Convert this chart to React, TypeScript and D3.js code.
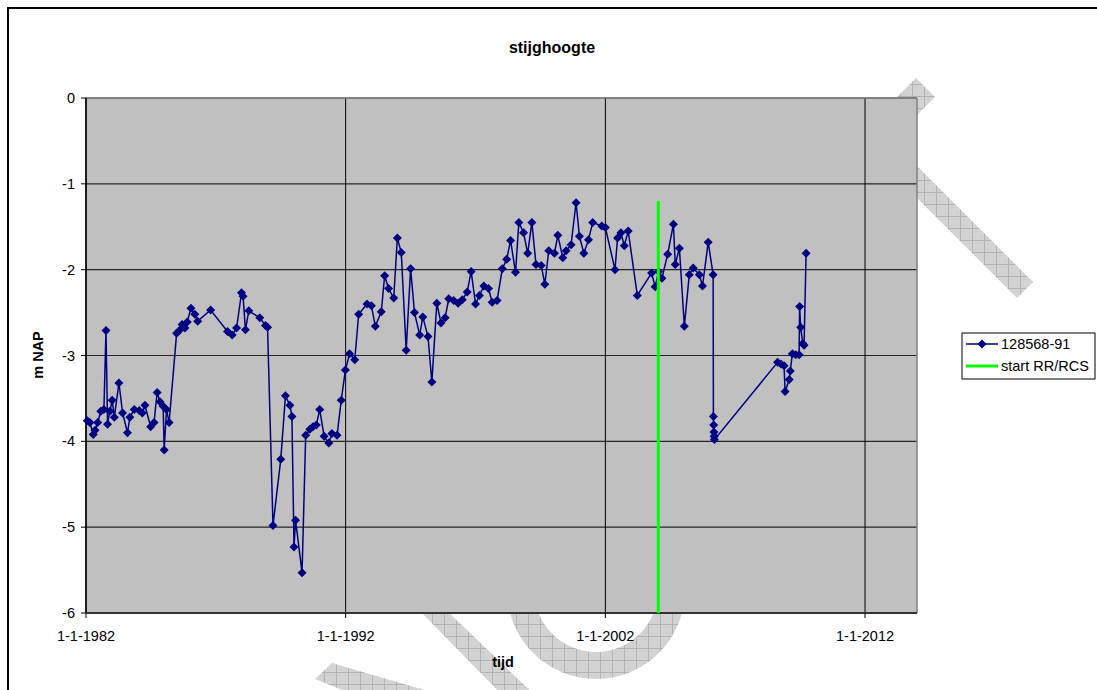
import React from "react";
import * as d3 from "d3";

// Measurement dates (decimal years) and groundwater head (m NAP) for well 128568-91
const years = [
  1982.05, 1982.15, 1982.28, 1982.35, 1982.45, 1982.57, 1982.69, 1982.77, 1982.83, 1982.92,
  1983.01, 1983.09, 1983.27, 1983.41, 1983.6, 1983.69, 1983.86, 1984.05, 1984.17, 1984.27,
  1984.49, 1984.62, 1984.74, 1984.85, 1984.97, 1985.01, 1985.1, 1985.2, 1985.49, 1985.59,
  1985.7, 1985.81, 1985.9, 1986.04, 1986.19, 1986.3, 1986.8, 1987.45, 1987.63, 1987.8,
  1987.99, 1988.05, 1988.14, 1988.27, 1988.69, 1988.91, 1988.99, 1989.2, 1989.5, 1989.68,
  1989.85, 1989.93, 1990.01, 1990.07, 1990.32, 1990.46, 1990.62, 1990.74, 1990.87, 1991.0,
  1991.17, 1991.35, 1991.47, 1991.67, 1991.83, 1991.99, 1992.15, 1992.35, 1992.5, 1992.82,
  1992.99, 1993.14, 1993.37, 1993.5, 1993.65, 1993.85, 1993.99, 1994.14, 1994.33, 1994.5,
  1994.65, 1994.85, 1994.97, 1995.17, 1995.32, 1995.51, 1995.67, 1995.83, 1995.97, 1996.16,
  1996.33, 1996.49, 1996.68, 1996.83, 1997.0, 1997.15, 1997.32, 1997.5, 1997.64, 1997.83,
  1998.03, 1998.2, 1998.35, 1998.54, 1998.67, 1998.85, 1999.01, 1999.17, 1999.33, 1999.53,
  1999.67, 1999.82, 2000.04, 2000.17, 2000.36, 2000.49, 2000.68, 2000.87, 2001.0, 2001.17,
  2001.35, 2001.51, 2001.86, 2002.0, 2002.37, 2002.47, 2002.6, 2002.73, 2002.88, 2003.23,
  2003.78, 2003.92, 2004.05, 2004.18, 2004.4, 2004.62, 2004.69, 2004.85, 2005.04, 2005.23,
  2005.38, 2005.62, 2005.74, 2005.96, 2006.15, 2006.16, 2006.17, 2006.18, 2006.19, 2006.2,
  2008.63, 2008.76, 2008.88, 2008.92, 2009.08, 2009.12, 2009.2, 2009.33, 2009.46, 2009.48,
  2009.52, 2009.6, 2009.65, 2009.73,
];

const heads = [
  -3.76, -3.78, -3.92, -3.87, -3.78, -3.65, -3.63, -2.71, -3.8, -3.65,
  -3.52, -3.72, -3.32, -3.67, -3.9, -3.72, -3.63, -3.64, -3.67, -3.58,
  -3.83, -3.78, -3.43, -3.54, -3.59, -4.1, -3.63, -3.78, -2.74, -2.71,
  -2.64, -2.68, -2.61, -2.45, -2.52, -2.6, -2.47, -2.72, -2.76, -2.68,
  -2.27, -2.31, -2.7, -2.48, -2.56, -2.65, -2.67, -4.98, -4.21, -3.47,
  -3.58, -3.71, -5.23, -4.92, -5.53, -3.93, -3.86, -3.83, -3.81, -3.63,
  -3.94, -4.02, -3.91, -3.93, -3.52, -3.17, -2.98, -3.05, -2.52, -2.4,
  -2.42, -2.66, -2.49, -2.07, -2.22, -2.33, -1.63, -1.8, -2.94, -1.99,
  -2.5, -2.76, -2.55, -2.78, -3.31, -2.39, -2.62, -2.56, -2.34, -2.36,
  -2.39, -2.35, -2.26, -2.02, -2.4, -2.3, -2.19, -2.22, -2.38, -2.36,
  -1.99, -1.88, -1.66, -2.03, -1.45, -1.57, -1.81, -1.45, -1.94, -1.95,
  -2.17, -1.78, -1.81, -1.6, -1.86, -1.78, -1.71, -1.22, -1.61, -1.81,
  -1.65, -1.45, -1.49, -1.51, -2.0, -1.63, -1.57, -1.72, -1.55, -2.3,
  -2.04, -2.2, -2.02, -2.1, -1.82, -1.47, -1.94, -1.75, -2.66, -2.06,
  -1.98, -2.06, -2.19, -1.68, -2.06, -3.71, -3.81, -3.89, -3.94, -3.98,
  -3.08, -3.1, -3.12, -3.42, -3.28, -3.18, -2.98, -2.99, -2.99, -2.43,
  -2.67, -2.86, -2.88, -1.81,
];

// Start of RR/RCS: vertical marker from the axis floor up to this level
const startYear = 2004.04;
const startTop = -1.2;

const yTicks = [0, -1, -2, -3, -4, -5, -6];
const xTickYears = [1982, 1992, 2002, 2012];
const xTickLabels = ["1-1-1982", "1-1-1992", "1-1-2002", "1-1-2012"];

const seriesName = "128568-91";
const markerName = "start RR/RCS";

function yearToDate(y: number): Date {
  const whole = Math.floor(y);
  const start = new Date(whole, 0, 1).getTime();
  const end = new Date(whole + 1, 0, 1).getTime();
  return new Date(start + (y - whole) * (end - start));
}

const FONT = "'Liberation Sans', Arial, sans-serif";
const NAVY = "#000080";

const diamond = (cx: number, cy: number, r: number) =>
  `M${cx},${cy - r}L${cx + r},${cy}L${cx},${cy + r}L${cx - r},${cy}Z`;

export default function App() {
  const left = 86, right = 917, top = 98, bottom = 613;
  const x = d3
    .scaleTime()
    .domain([new Date(1982, 0, 1), new Date(2014, 0, 1)])
    .range([left, right]);
  const y = d3.scaleLinear().domain([-6, 0]).range([bottom, top]);

  const pts = years.map((yr, i) => ({ x: x(yearToDate(yr)), y: y(heads[i]) }));
  const line = d3
    .line<{ x: number; y: number }>()
    .x((d) => d.x)
    .y((d) => d.y);

  const sx = x(yearToDate(startYear));

  // decorative hatched background stamp
  const cx = 596, cy = 590, ro = 89, ri = 62;
  const arcPath = `M${cx + ro},${cy} A${ro},${ro} 0 0 1 ${cx - ro},${cy} L${cx - ri},${cy} A${ri},${ri} 0 0 0 ${cx + ri},${cy} Z`;

  return (
    <svg
      width={1097}
      height={690}
      style={{ position: "absolute", left: 0, top: 0, background: "#fff" }}
      fontFamily={FONT}
    >
      <defs>
        <pattern id="hatch" width={12} height={12} patternUnits="userSpaceOnUse">
          <rect width={12} height={12} fill="#d3d3d3" />
          <path d="M0,0.5H12M0.5,0V12" stroke="#b2b2b2" strokeWidth={1} />
          <path d="M3,3h1v1h-1zM9,9h1v1h-1zM9,3h1v1h-1zM3,9h1v1h-1z" fill="#c6c6c6" />
        </pattern>
      </defs>

      {/* stamp behind the chart */}
      <g fill="url(#hatch)">
        <polygon points="916,78 935,97 820,212 801,193" />
        <polygon points="1033,282 1017,298 860,141 876,125" />
        <polygon points="415,606 442,606 545,705 512,705" />
        <path d={arcPath} />
        <polygon points="315,679 332,663 445,696 380,705" />
      </g>

      {/* outer frame */}
      <rect x={8} y={8} width={1200} height={800} fill="none" stroke="#000" strokeWidth={2} />

      <text x={552} y={53} textAnchor="middle" fontWeight="bold" fontSize={16}>
        stijghoogte
      </text>

      {/* plot area */}
      <rect x={left} y={top} width={right - left} height={bottom - top} fill="#c0c0c0" />

      {yTicks.map((t) => (
        <line key={"hg" + t} x1={left} x2={right} y1={y(t)} y2={y(t)} stroke="#262626" strokeWidth={1.2} />
      ))}
      {xTickYears.map((t) => (
        <line
          key={"vg" + t}
          x1={x(yearToDate(t))}
          x2={x(yearToDate(t))}
          y1={top}
          y2={bottom}
          stroke="#000"
          strokeWidth={1}
        />
      ))}

      {/* plot border */}
      <line x1={left} x2={right} y1={top} y2={top} stroke="#808080" strokeWidth={1.5} />
      <line x1={right} x2={right} y1={top} y2={bottom} stroke="#808080" strokeWidth={1.5} />
      <line x1={left} x2={left} y1={top} y2={bottom} stroke="#000" strokeWidth={1.5} />
      <line x1={left} x2={right} y1={bottom} y2={bottom} stroke="#333" strokeWidth={2} />

      {/* y axis ticks and labels */}
      {yTicks.map((t) => (
        <g key={"yt" + t}>
          <line x1={left - 5} x2={left} y1={y(t)} y2={y(t)} stroke="#000" />
          <text x={75} y={y(t) + 5} textAnchor="end" fontSize={14.5}>
            {t}
          </text>
        </g>
      ))}

      {/* x axis ticks and labels */}
      {xTickYears.map((t, i) => (
        <g key={"xt" + t}>
          <line x1={x(yearToDate(t))} x2={x(yearToDate(t))} y1={bottom} y2={bottom + 5} stroke="#000" />
          <text x={x(yearToDate(t))} y={641} textAnchor="middle" fontSize={14.5}>
            {xTickLabels[i]}
          </text>
        </g>
      ))}

      <text x={503} y={667} textAnchor="middle" fontWeight="bold" fontSize={14.5}>
        tijd
      </text>
      <text
        transform={`translate(43,355) rotate(-90)`}
        textAnchor="middle"
        fontWeight="bold"
        fontSize={14.5}
      >
        m NAP
      </text>

      {/* measured series */}
      <path d={line(pts) || ""} fill="none" stroke={NAVY} strokeWidth={1.5} />
      {pts.map((p, i) => (
        <path key={"m" + i} d={diamond(p.x, p.y, 4.5)} fill={NAVY} />
      ))}

      {/* start RR/RCS marker */}
      <line x1={sx} x2={sx} y1={y(startTop)} y2={y(-6)} stroke="#00ff00" strokeWidth={3} />

      {/* legend */}
      <rect x={962} y={333} width={133} height={46} fill="#fff" stroke="#000" strokeWidth={1} />
      <line x1={966} x2={998} y1={344} y2={344} stroke={NAVY} strokeWidth={1.5} />
      <path d={diamond(982, 344, 4.5)} fill={NAVY} />
      <text x={1001} y={349} fontSize={14.5}>
        {seriesName}
      </text>
      <line x1={966} x2={998} y1={366} y2={366} stroke="#00ff00" strokeWidth={3} />
      <text x={1001} y={371} fontSize={14.5}>
        {markerName}
      </text>
    </svg>
  );
}
